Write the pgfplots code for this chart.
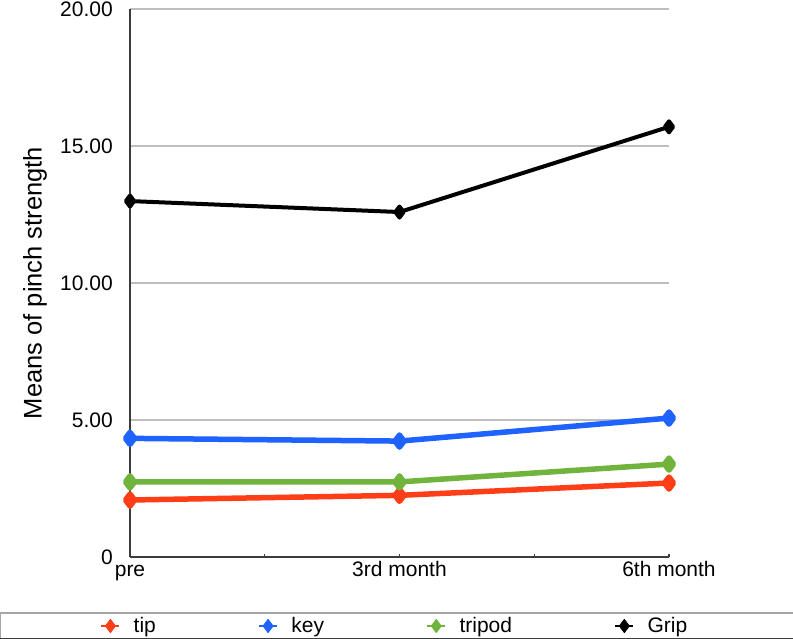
\documentclass[border=0pt]{standalone}
\usepackage{pgfplots}
\pgfplotsset{compat=1.18}
\usepackage{fontspec}
\setmainfont{Liberation Sans}

\definecolor{tipc}{RGB}{255,62,24}
\definecolor{keyc}{RGB}{30,98,255}
\definecolor{tric}{RGB}{112,180,62}
\definecolor{gridc}{RGB}{190,190,190}
\definecolor{axc}{RGB}{60,60,60}

\begin{document}
\begin{tikzpicture}
\path[use as bounding box] (0,0) rectangle (793bp,639bp);
\begin{axis}[
    at={(130bp,82bp)}, anchor=south west,
    scale only axis,
    width=539bp, height=548bp,
    xmin=0, xmax=2,
    ymin=0, ymax=20,
    clip=false,
    axis x line*=bottom,
    axis y line*=left,
    axis line style={axc, line width=1.6bp},
    xtick={0,1,2},
    xticklabels={pre,3rd month,6th month},
    minor xtick={0.5,1.5},
    tick align=inside,
    major tick length=3bp,
    minor tick length=3bp,
    xtick style={axc, line width=1.2bp},
    ytick={0,5,10,15,20},
    yticklabels={0,5.00,10.00,15.00,20.00},
    ytick style={draw=none},
    ymajorgrids,
    grid style={gridc, line width=1.2bp},
    tick label style={font=\fontsize{21bp}{24bp}\selectfont, inner sep=0pt},
    xticklabel style={text height=0.72em, text depth=0.2em, yshift=-12bp},
    yticklabel style={xshift=-17bp},
    ylabel={Means of pinch strength},
    ylabel style={at={(axis description cs:-0.1763,0.5)}, anchor=center,
        inner sep=0pt, font=\fontsize{25.5bp}{28bp}\selectfont},
    every axis plot/.append style={line width=5.5bp, line join=round},
    mark options={solid},
    legend columns=4,
    legend style={
        at={(axis description cs:-0.0557,-0.1259)}, anchor=west,
        draw=none, fill=none, inner sep=0pt,
        nodes={inner sep=0pt, font=\fontsize{21bp}{24bp}\selectfont},
        /tikz/every odd column/.append style={column sep=13bp},
        /tikz/every even column/.append style={column sep=102bp},
    },
    legend image code/.code={
        \draw[#1, line width=2.5bp] (1bp,0bp) -- (19bp,0bp);
        \draw[#1, line width=1bp, mark size=6.5bp] plot coordinates {(10bp,0bp)};
    },
]
\addplot[tipc, mark=diamond*, mark size=6bp] coordinates {(0,2.08) (1,2.25) (2,2.70)};
\addlegendentry{tip}
\addplot[keyc, mark=diamond*, mark size=6bp] coordinates {(0,4.33) (1,4.23) (2,5.07)};
\addlegendentry{key}
\addplot[tric, mark=diamond*, mark size=6bp] coordinates {(0,2.74) (1,2.74) (2,3.39)};
\addlegendentry{tripod}
\addplot[black, line width=4bp, mark=diamond*, mark size=5.5bp] coordinates {(0,12.99) (1,12.59) (2,15.70)};
\addlegendentry{Grip}
\end{axis}
% legend frame
\draw[gray!70, line width=2.5bp] (0,0.5bp) -- (0,26bp) -- (793bp,26bp);
\draw[axc, line width=1.5bp] (0,0.75bp) -- (793bp,0.75bp);
\end{tikzpicture}
\end{document}
